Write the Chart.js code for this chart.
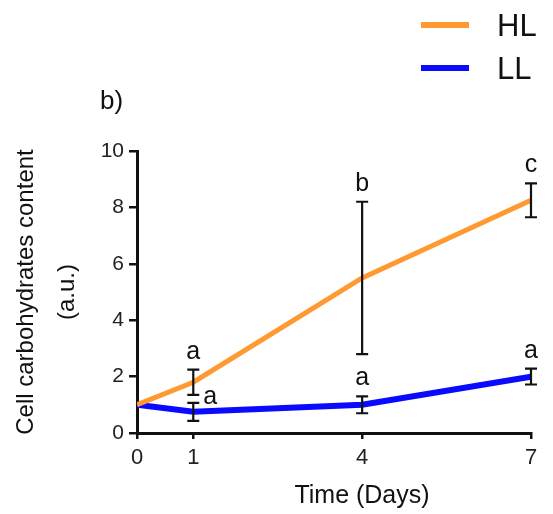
<!DOCTYPE html>
<html>
<head>
<meta charset="utf-8">
<script src="https://cdn.jsdelivr.net/npm/chart.js@4"></script>
<style>
    html, body { margin: 0; padding: 0; background: #fff; }
</style>
</head>
<body>
<canvas id="myChart" width="553" height="514"></canvas>
<script>
// data
const days = [0, 1, 4, 7];
const xTicks = [0, 1, 4, 7];
const yTicks = [0, 2, 4, 6, 8, 10];
const hlValues = [1, 1.8, 5.5, 8.25];
const hlErrors = [0, 0.45, 2.7, 0.6];
const hlLetters = ['', 'a', 'b', 'c'];
const llValues = [1, 0.75, 1.0, 2.0];
const llErrors = [0, 0.32, 0.3, 0.28];
const llLetters = ['', 'a', 'a', 'a'];

const FONT = "'Liberation Sans', Arial, sans-serif";

// error bars + significance letters
const errorBarPlugin = {
    id: 'errorBars',
    afterDatasetsDraw(chart) {
        const ctx = chart.ctx;
        const xs = chart.scales.x;
        const ys = chart.scales.y;
        ctx.save();
        chart.data.datasets.forEach(ds => {
            ds.data.forEach((p, i) => {
                const err = ds.errors[i];
                const x = xs.getPixelForValue(p.x);
                const top = ys.getPixelForValue(p.y + err);
                const bottom = ys.getPixelForValue(p.y - err);
                if (err > 0) {
                    ctx.strokeStyle = '#111';
                    ctx.lineWidth = 2.2;
                    ctx.beginPath();
                    ctx.moveTo(x, top); ctx.lineTo(x, bottom);
                    ctx.moveTo(x - 6, top); ctx.lineTo(x + 6, top);
                    ctx.moveTo(x - 6, bottom); ctx.lineTo(x + 6, bottom);
                    ctx.stroke();
                }
                const letter = ds.letters[i];
                if (!letter) return;
                ctx.fillStyle = '#111';
                ctx.font = '25px ' + FONT;
                ctx.textAlign = 'center';
                ctx.textBaseline = 'alphabetic';
                // LL at day 1 sits to the right, HL bar is above it
                if (ds.label === 'LL' && i === 1) {
                    ctx.fillText(letter, x + 17, ys.getPixelForValue(p.y) - 8);
                } else {
                    ctx.fillText(letter, x, top - 11);
                }
            });
        });
        ctx.restore();
    }
};

// legend, panel label and x title
const decorPlugin = {
    id: 'decor',
    afterDraw(chart) {
        const ctx = chart.ctx;
        ctx.save();
        ctx.fillStyle = '#111';
        ctx.textAlign = 'left';
        ctx.textBaseline = 'alphabetic';
        const legendY = [25, 68];
        chart.data.datasets.forEach((ds, i) => {
            ctx.strokeStyle = ds.borderColor;
            ctx.lineWidth = 6;
            ctx.beginPath();
            ctx.moveTo(421, legendY[i]);
            ctx.lineTo(469, legendY[i]);
            ctx.stroke();
            ctx.font = '31px ' + FONT;
            ctx.fillText(ds.label, 497, legendY[i] + 11);
        });
        ctx.font = '26px ' + FONT;
        ctx.fillText('b)', 100, 109);
        ctx.font = '25px ' + FONT;
        ctx.textAlign = 'center';
        ctx.fillText('Time (Days)', 362, 503);
        ctx.restore();
    }
};

const ctx = document.getElementById('myChart').getContext('2d');
const chart = new Chart(ctx, {
    type: 'line',
    data: {
        datasets: [{
            label: 'HL',
            data: days.map((d, i) => ({ x: d, y: hlValues[i] })),
            errors: hlErrors,
            letters: hlLetters,
            borderColor: '#ff9a33',
            borderWidth: 5,
            pointRadius: 0,
            tension: 0,
            fill: false
        }, {
            label: 'LL',
            data: days.map((d, i) => ({ x: d, y: llValues[i] })),
            errors: llErrors,
            letters: llLetters,
            borderColor: '#0a0aff',
            borderWidth: 6,
            pointRadius: 0,
            tension: 0,
            fill: false
        }]
    },
    options: {
        responsive: false,
        animation: false,
        layout: { padding: { top: 151, right: 22, bottom: 0, left: 0 } },
        plugins: {
            legend: { display: false },
            tooltip: { enabled: false }
        },
        scales: {
            x: {
                type: 'linear',
                min: 0,
                max: 7,
                afterBuildTicks: scale => { scale.ticks = xTicks.map(v => ({ value: v })); },
                afterFit: scale => { scale.height = 81; },
                grid: { drawOnChartArea: false, color: '#111', lineWidth: 2.5, tickLength: 6 },
                border: { color: '#111', width: 3 },
                ticks: { color: '#222', padding: 6, font: { size: 22, family: FONT }, maxRotation: 0 }
            },
            y: {
                min: 0,
                max: 10,
                afterBuildTicks: scale => { scale.ticks = yTicks.map(v => ({ value: v })); },
                afterFit: scale => { scale.width = 137; },
                grid: { drawOnChartArea: false, color: '#111', lineWidth: 2.5, tickLength: 8 },
                border: { color: '#111', width: 3 },
                ticks: { color: '#222', padding: 5, font: { size: 21, family: FONT } },
                title: {
                    display: true,
                    text: ['Cell carbohydrates content', '(a.u.)'],
                    color: '#111',
                    font: { size: 24, family: FONT, lineHeight: 1.7 },
                    padding: { top: 6, bottom: 0 }
                }
            }
        }
    },
    plugins: [errorBarPlugin, decorPlugin]
});
</script>
</body>
</html>
